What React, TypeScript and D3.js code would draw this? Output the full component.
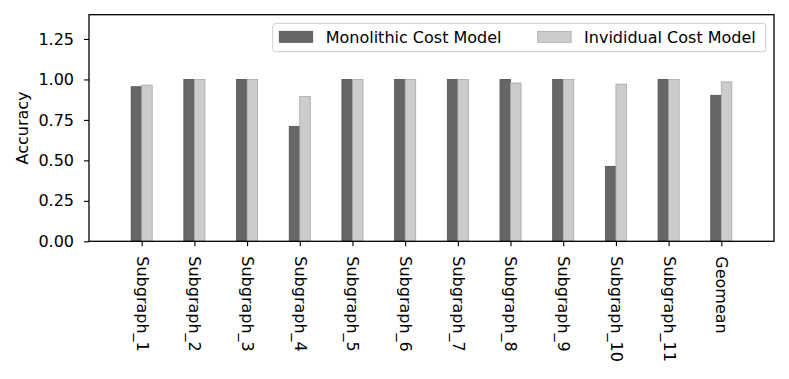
import React, { useEffect, useRef } from 'react';
import * as d3 from 'd3';

// chart data
const categories = [
    'Subgraph_1', 'Subgraph_2', 'Subgraph_3', 'Subgraph_4', 'Subgraph_5', 'Subgraph_6',
    'Subgraph_7', 'Subgraph_8', 'Subgraph_9', 'Subgraph_10', 'Subgraph_11', 'Geomean',
];
const monolithic = [0.955, 1.0, 1.0, 0.71, 1.0, 1.0, 1.0, 1.0, 1.0, 0.463, 1.0, 0.902];
const individual = [0.965, 1.0, 1.0, 0.895, 1.0, 1.0, 1.0, 0.978, 1.0, 0.971, 1.0, 0.985];
const seriesNames = ['Monolithic Cost Model', 'Invididual Cost Model'];
const yTicks = [0, 0.25, 0.5, 0.75, 1.0, 1.25];

const W = 789;
const H = 379;
const margin = { top: 14.7, right: 15, bottom: 137.7, left: 89 };
const colors = ['#666666', '#cccccc'];
const edges = ['#505050', '#a8a8a8'];
const font = "'DejaVu Sans', sans-serif";
const fontSize = 16;

const App = () => {
    const ref = useRef<SVGSVGElement>(null);

    useEffect(() => {
        const svg = d3.select(ref.current);
        svg.selectAll('*').remove();

        const innerW = W - margin.left - margin.right;
        const innerH = H - margin.top - margin.bottom;

        // x is linear like matplotlib: categories at 0..n-1, xlim [-1, n]
        const x = d3.scaleLinear().domain([-1, categories.length]).range([0, innerW]);
        const y = d3.scaleLinear().domain([0, 1.4]).range([innerH, 0]);
        const barW = x(0.2) - x(0);

        const g = svg.append('g')
            .attr('transform', `translate(${margin.left},${margin.top})`);

        // bars
        const series = [monolithic, individual];
        series.forEach((vals, s) => {
            g.append('g')
                .selectAll('rect')
                .data(vals)
                .enter()
                .append('rect')
                .attr('x', (d, i) => x(i + (s === 0 ? -0.2 : 0)))
                .attr('y', (d) => y(d))
                .attr('width', barW)
                .attr('height', (d) => y(0) - y(d))
                .attr('fill', colors[s])
                .attr('stroke', edges[s])
                .attr('stroke-width', 0.8);
        });

        // y axis
        const yAxis = d3.axisLeft(y)
            .tickValues(yTicks)
            .tickFormat(d3.format('.2f'))
            .tickSize(5)
            .tickPadding(10);
        const ya = g.append('g').call(yAxis);
        ya.select('.domain').remove();
        ya.selectAll('line').attr('stroke', '#000').attr('stroke-width', 1.1);
        ya.selectAll('text')
            .attr('fill', '#000')
            .style('font-family', font)
            .style('font-size', `${fontSize}px`);

        // x axis
        const xAxis = d3.axisBottom(x)
            .tickValues(d3.range(categories.length))
            .tickFormat((d) => categories[d as number])
            .tickSize(5);
        const xa = g.append('g')
            .attr('transform', `translate(0,${innerH})`)
            .call(xAxis);
        xa.select('.domain').remove();
        xa.selectAll('line').attr('stroke', '#000').attr('stroke-width', 1.1);
        xa.selectAll('text')
            .attr('fill', '#000')
            .attr('y', 0)
            .attr('x', 0)
            .attr('dy', '0.35em')
            .attr('transform', 'translate(0,15) rotate(90)')
            .style('text-anchor', 'start')
            .style('font-family', font)
            .style('font-size', `${fontSize}px`);

        // frame
        g.append('rect')
            .attr('x', 0)
            .attr('y', 0)
            .attr('width', innerW)
            .attr('height', innerH)
            .attr('fill', 'none')
            .attr('stroke', '#000')
            .attr('stroke-width', 1.3);

        // y label
        svg.append('text')
            .attr('transform', `translate(28,${margin.top + innerH / 2}) rotate(-90)`)
            .attr('text-anchor', 'middle')
            .style('font-family', font)
            .style('font-size', `${fontSize}px`)
            .text('Accuracy');

        // legend
        const legend = svg.append('g').attr('transform', 'translate(272.7,23.3)');
        legend.append('rect')
            .attr('width', 493)
            .attr('height', 28.4)
            .attr('rx', 3)
            .attr('fill', '#fff')
            .attr('fill-opacity', 0.8)
            .attr('stroke', '#d6d6d6')
            .attr('stroke-width', 1.2);
        const itemX = [6.6, 265];
        seriesNames.forEach((name, s) => {
            legend.append('rect')
                .attr('x', itemX[s])
                .attr('y', 8)
                .attr('width', 33.4)
                .attr('height', 11)
                .attr('fill', colors[s])
                .attr('stroke', edges[s])
                .attr('stroke-width', 0.8);
            legend.append('text')
                .attr('x', itemX[s] + 46.4)
                .attr('y', 14)
                .attr('dy', '0.35em')
                .style('font-family', font)
                .style('font-size', `${fontSize}px`)
                .text(name);
        });
    }, []);

    return (
        <svg
            ref={ref}
            width={W}
            height={H}
            style={{ position: 'absolute', left: 0, top: 0, background: '#fff' }}
        />
    );
};

export default App;
